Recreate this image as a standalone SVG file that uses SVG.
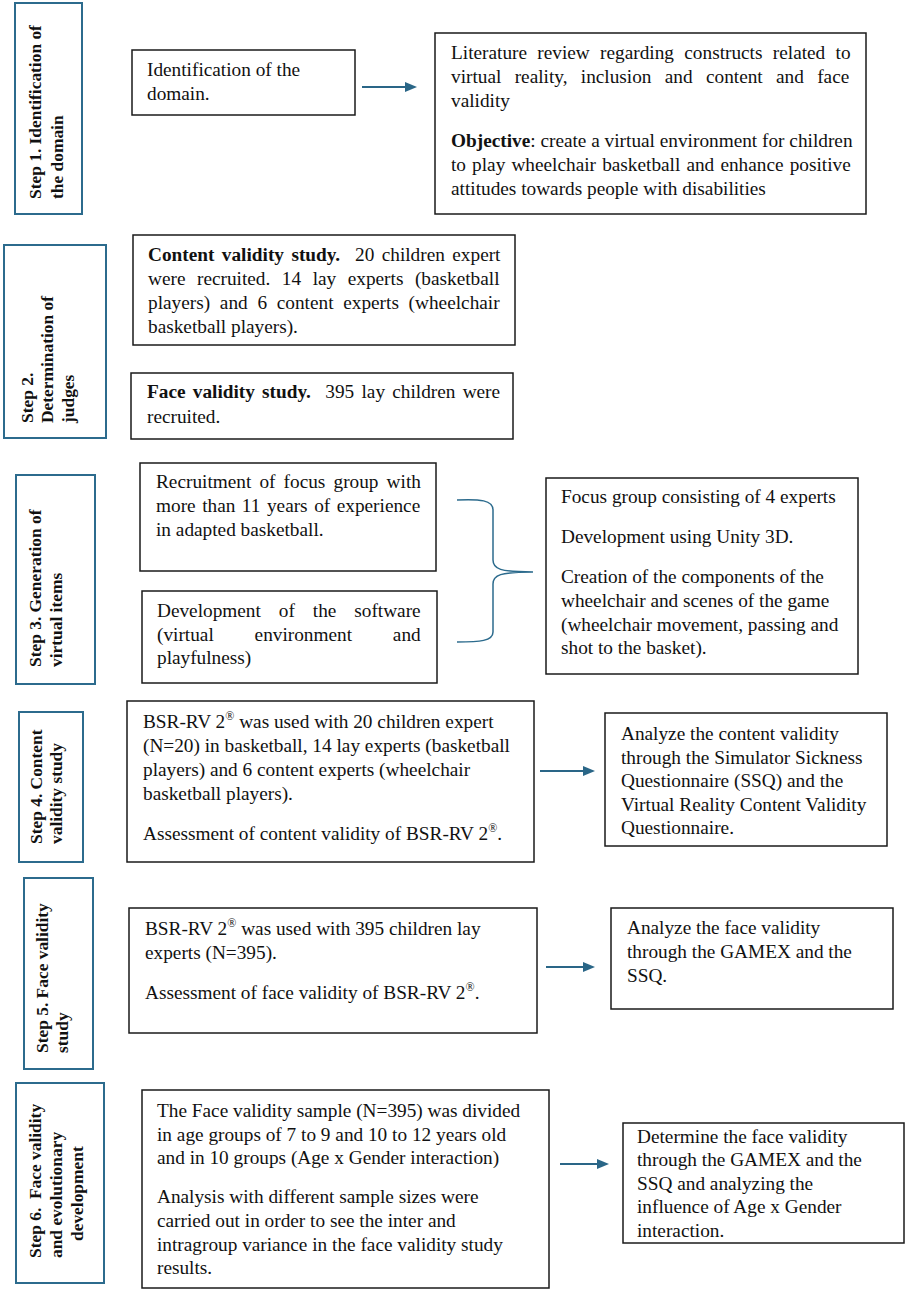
<svg xmlns="http://www.w3.org/2000/svg" width="906" height="1291" viewBox="0 0 906 1291">
<style>
  .lbl { fill: #ffffff; stroke: #2c6b8d; stroke-width: 2; }
  .box { fill: #ffffff; stroke: #1a1a1a; stroke-width: 1.5; }
  .lt { font-family: "Liberation Serif", "Times New Roman", serif; font-weight: bold; font-size: 17.4px; fill: #111; }
  .t { font-family: "Liberation Serif", "Times New Roman", serif; font-size: 19.3px; fill: #111; }
  .b { font-weight: bold; }
  .sup { font-size: 12px; }
  .arr { stroke: #2a6687; stroke-width: 2; fill: none; }
  .brace { stroke: #2c6b8d; stroke-width: 1.5; fill: none; }
</style>
<defs>
  <marker id="ah" markerUnits="userSpaceOnUse" markerWidth="12" markerHeight="10" viewBox="0 0 12 10" refX="6" refY="5" orient="auto">
    <path d="M0,0 L12,5 L0,10 z" fill="#2a6687"/>
  </marker>
</defs>
<rect width="906" height="1291" fill="#ffffff"/>

<!-- Step 1 -->
<g id="step1-label">
  <rect class="lbl" x="15" y="3" width="67" height="211"/>
  <text class="lt" transform="translate(41,199) rotate(-90)"><tspan x="0" y="0">Step 1. Identification of</tspan><tspan x="0" y="22">the domain</tspan></text>
</g>
<g id="step1-identification">
  <rect class="box" x="132" y="50" width="223" height="65"/>
  <text class="t"><tspan x="147" y="76">Identification of the</tspan><tspan x="147" y="100">domain.</tspan></text>
</g>
<g id="step1-literature">
  <rect class="box" x="435" y="33" width="431" height="181"/>
  <text class="t">
    <tspan x="451" y="59" word-spacing="5.5">Literature review regarding constructs related to</tspan>
    <tspan x="451" y="83" word-spacing="8.5">virtual reality, inclusion and content and face</tspan>
    <tspan x="451" y="107">validity</tspan>
    <tspan x="451" y="147"><tspan class="b">Objective</tspan>: create a virtual environment for children</tspan>
    <tspan x="451" y="171" word-spacing="1.3">to play wheelchair basketball and enhance positive</tspan>
    <tspan x="451" y="195">attitudes towards people with disabilities</tspan>
  </text>
</g>

<!-- Step 2 -->
<g id="step2-label">
  <rect class="lbl" x="4" y="245" width="102" height="193"/>
  <text class="lt" transform="translate(32.5,423) rotate(-90)"><tspan x="0" y="0">Step 2.</tspan><tspan x="0" y="20.5">Determination of</tspan><tspan x="0" y="41">judges</tspan></text>
</g>
<g id="step2-content">
  <rect class="box" x="133" y="235" width="382" height="110"/>
  <text class="t">
    <tspan x="148" y="261" word-spacing="2.6"><tspan class="b">Content validity study.</tspan>&#160; 20 children expert</tspan>
    <tspan x="148" y="285" word-spacing="6.7">were recruited. 14 lay experts (basketball</tspan>
    <tspan x="148" y="309" word-spacing="4.9">players) and 6 content experts (wheelchair</tspan>
    <tspan x="148" y="333">basketball players).</tspan>
  </text>
</g>
<g id="step2-face">
  <rect class="box" x="131" y="373" width="382" height="66"/>
  <text class="t">
    <tspan x="147" y="398" word-spacing="2.4"><tspan class="b">Face validity study.</tspan>&#160; 395 lay children were</tspan>
    <tspan x="147" y="423">recruited.</tspan>
  </text>
</g>

<!-- Step 3 -->
<g id="step3-label">
  <rect class="lbl" x="16" y="475" width="79" height="209"/>
  <text class="lt" transform="translate(41,667) rotate(-90)"><tspan x="0" y="0">Step 3. Generation of</tspan><tspan x="0" y="21">virtual items</tspan></text>
</g>
<g id="step3-recruitment">
  <rect class="box" x="140" y="463" width="296" height="108"/>
  <text class="t">
    <tspan x="156" y="488" word-spacing="3.3">Recruitment of focus group with</tspan>
    <tspan x="156" y="512" word-spacing="1.7">more than 11 years of experience</tspan>
    <tspan x="156" y="536">in adapted basketball.</tspan>
  </text>
</g>
<g id="step3-software">
  <rect class="box" x="142" y="591" width="295" height="92"/>
  <text class="t">
    <tspan x="157" y="617" word-spacing="13.1">Development of the software</tspan>
    <tspan x="157" y="641" word-spacing="36">(virtual environment and</tspan>
    <tspan x="157" y="664">playfulness)</tspan>
  </text>
</g>
<g id="step3-result">
  <rect class="box" x="546" y="478" width="312" height="196"/>
  <text class="t">
    <tspan x="561" y="503">Focus group consisting of 4 experts</tspan>
    <tspan x="561" y="543">Development using Unity 3D.</tspan>
    <tspan x="561" y="583">Creation of the components of the</tspan>
    <tspan x="561" y="607">wheelchair and scenes of the game</tspan>
    <tspan x="561" y="631">(wheelchair movement, passing and</tspan>
    <tspan x="561" y="654">shot to the basket).</tspan>
  </text>
</g>

<!-- Step 4 -->
<g id="step4-label">
  <rect class="lbl" x="19" y="712" width="64" height="150"/>
  <text class="lt" transform="translate(42,844) rotate(-90)"><tspan x="0" y="0">Step 4. Content</tspan><tspan x="0" y="20">validity study</tspan></text>
</g>
<g id="step4-study">
  <rect class="box" x="127" y="701" width="407" height="161"/>
  <text class="t">
    <tspan x="143" y="728">BSR-RV 2<tspan class="sup" dy="-8">®</tspan><tspan dy="8"> was used with 20 children expert</tspan></tspan>
    <tspan x="143" y="752">(N=20) in basketball, 14 lay experts (basketball</tspan>
    <tspan x="143" y="776">players) and 6 content experts (wheelchair</tspan>
    <tspan x="143" y="800">basketball players).</tspan>
    <tspan x="143" y="840">Assessment of content validity of BSR-RV 2<tspan class="sup" dy="-8">®</tspan><tspan dy="8">.</tspan></tspan>
  </text>
</g>
<g id="step4-result">
  <rect class="box" x="605" y="713" width="282" height="133"/>
  <text class="t">
    <tspan x="621" y="740">Analyze the content validity</tspan>
    <tspan x="621" y="764">through the Simulator Sickness</tspan>
    <tspan x="621" y="787">Questionnaire (SSQ) and the</tspan>
    <tspan x="621" y="811">Virtual Reality Content Validity</tspan>
    <tspan x="621" y="834">Questionnaire.</tspan>
  </text>
</g>

<!-- Step 5 -->
<g id="step5-label">
  <rect class="lbl" x="24" y="878" width="69" height="191"/>
  <text class="lt" transform="translate(47.5,1053) rotate(-90)"><tspan x="0" y="0">Step 5. Face validity</tspan><tspan x="0" y="20.5">study</tspan></text>
</g>
<g id="step5-study">
  <rect class="box" x="129" y="908" width="408" height="125"/>
  <text class="t">
    <tspan x="145" y="935">BSR-RV 2<tspan class="sup" dy="-8">®</tspan><tspan dy="8"> was used with 395 children lay</tspan></tspan>
    <tspan x="145" y="959">experts (N=395).</tspan>
    <tspan x="145" y="999">Assessment of face validity of BSR-RV 2<tspan class="sup" dy="-8">®</tspan><tspan dy="8">.</tspan></tspan>
  </text>
</g>
<g id="step5-result">
  <rect class="box" x="611" y="908" width="282" height="101"/>
  <text class="t">
    <tspan x="627" y="934">Analyze the face validity</tspan>
    <tspan x="627" y="958">through the GAMEX and the</tspan>
    <tspan x="627" y="982">SSQ.</tspan>
  </text>
</g>

<!-- Step 6 -->
<g id="step6-label">
  <rect class="lbl" x="16" y="1083" width="88" height="200"/>
  <text class="lt" transform="translate(40.5,1258) rotate(-90)"><tspan x="0" y="0">Step 6.&#160; Face validity</tspan><tspan x="0" y="21">and evolutionary</tspan><tspan x="17" y="42">development</tspan></text>
</g>
<g id="step6-study">
  <rect class="box" x="142" y="1090" width="407" height="198"/>
  <text class="t">
    <tspan x="157" y="1117">The Face validity sample (N=395) was divided</tspan>
    <tspan x="157" y="1141">in age groups of 7 to 9 and 10 to 12 years old</tspan>
    <tspan x="157" y="1164">and in 10 groups (Age x Gender interaction)</tspan>
    <tspan x="157" y="1203">Analysis with different sample sizes were</tspan>
    <tspan x="157" y="1227">carried out in order to see the inter and</tspan>
    <tspan x="157" y="1251">intragroup variance in the face validity study</tspan>
    <tspan x="157" y="1274">results.</tspan>
  </text>
</g>
<g id="step6-result">
  <rect class="box" x="623" y="1123" width="281" height="120"/>
  <text class="t">
    <tspan x="637" y="1143">Determine the face validity</tspan>
    <tspan x="637" y="1166">through the GAMEX and the</tspan>
    <tspan x="637" y="1190">SSQ and analyzing the</tspan>
    <tspan x="637" y="1213">influence of Age x Gender</tspan>
    <tspan x="637" y="1237">interaction.</tspan>
  </text>
</g>

<!-- Connectors -->
<g id="connectors">
  <line class="arr" x1="362" y1="87" x2="411" y2="87" marker-end="url(#ah)"/>
  <path class="brace" d="M457,500 C480,499 493,500 493,510 L493,560 C493,569 500,572 533,572 C500,572 493,575 493,584 L493,632 C493,641 480,642 457,642"/>
  <line class="arr" x1="540" y1="771" x2="589" y2="771" marker-end="url(#ah)"/>
  <line class="arr" x1="546" y1="967" x2="589" y2="967" marker-end="url(#ah)"/>
  <line class="arr" x1="560" y1="1164" x2="603" y2="1164" marker-end="url(#ah)"/>
</g>
</svg>
